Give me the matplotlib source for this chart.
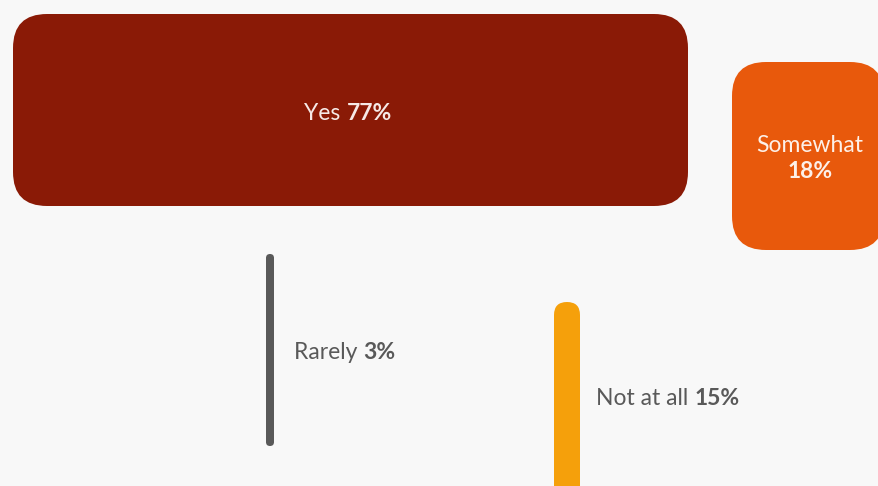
"""Survey answer blocks: rounded tiles with mixed-weight labels."""

import matplotlib.pyplot as plt
from matplotlib.patches import FancyBboxPatch

# Data
labels = ["Yes", "Somewhat", "Rarely", "Not at all"]
values = [77, 18, 3, 15]
colors = ["#8a1a06", "#e8590c", "#595959", "#f5a00b"]

# Layout in pixel units: (x, y, width, height, corner radius)
tiles = {
    "Yes": (13, 14, 675, 192, 34),
    "Somewhat": (732, 62, 152, 188, 34),
    "Rarely": (266, 254, 8, 192, 4),
    "Not at all": (554, 302, 26, 200, 13),
}
# Label anchors: (x, y, mode) - "center", "stack" (two lines) or "left"
anchors = {
    "Yes": (348, 113, "center"),
    "Somewhat": (810, 158, "stack"),
    "Rarely": (294, 352, "left"),
    "Not at all": (596, 398, "left"),
}

W, H = 879, 486
fig = plt.figure(figsize=(W / 100, H / 100), dpi=100, facecolor="#f8f8f8")
ax = fig.add_axes([0, 0, 1, 1])
ax.set_xlim(0, W)
ax.set_ylim(H, 0)
ax.set_facecolor("#f8f8f8")
ax.axis("off")

font = ["Lato", "DejaVu Sans"]
fs = 16.5
renderer = fig.canvas.get_renderer()


def two_part(x, y, light, bold, color, ha):
    """Draw light + bold text on one baseline; ha is 'center' or 'left'."""
    t1 = ax.text(0, y, light + " ", fontsize=fs, family=font, weight="normal",
                 color=color, va="center", ha="left")
    t2 = ax.text(0, y, bold, fontsize=fs, family=font, weight="bold",
                 color=color, va="center", ha="left")
    w1 = t1.get_window_extent(renderer).width
    w2 = t2.get_window_extent(renderer).width
    start = x - (w1 + w2) / 2 if ha == "center" else x
    t1.set_x(start)
    t2.set_x(start + w1)


for lab, val, col in zip(labels, values, colors):
    x, y, w, h, r = tiles[lab]
    ax.add_patch(FancyBboxPatch((x, y), w, h,
                                boxstyle=f"round,pad=0,rounding_size={r}",
                                facecolor=col, edgecolor="none"))
    ax_, ay, mode = anchors[lab]
    pct = f"{val}%"
    if mode == "center":
        two_part(ax_, ay, lab, pct, "#f6e9e6", "center")
    elif mode == "stack":
        ax.text(ax_, ay - 13, lab, fontsize=fs, family=font, weight="normal",
                color="#fdf0e8", ha="center", va="center")
        ax.text(ax_, ay + 13, pct, fontsize=fs, family=font, weight="bold",
                color="#fdf0e8", ha="center", va="center")
    else:
        two_part(ax_, ay, lab, pct, "#595959", "left")

fig.savefig("out.png", dpi=100, facecolor=fig.get_facecolor())
